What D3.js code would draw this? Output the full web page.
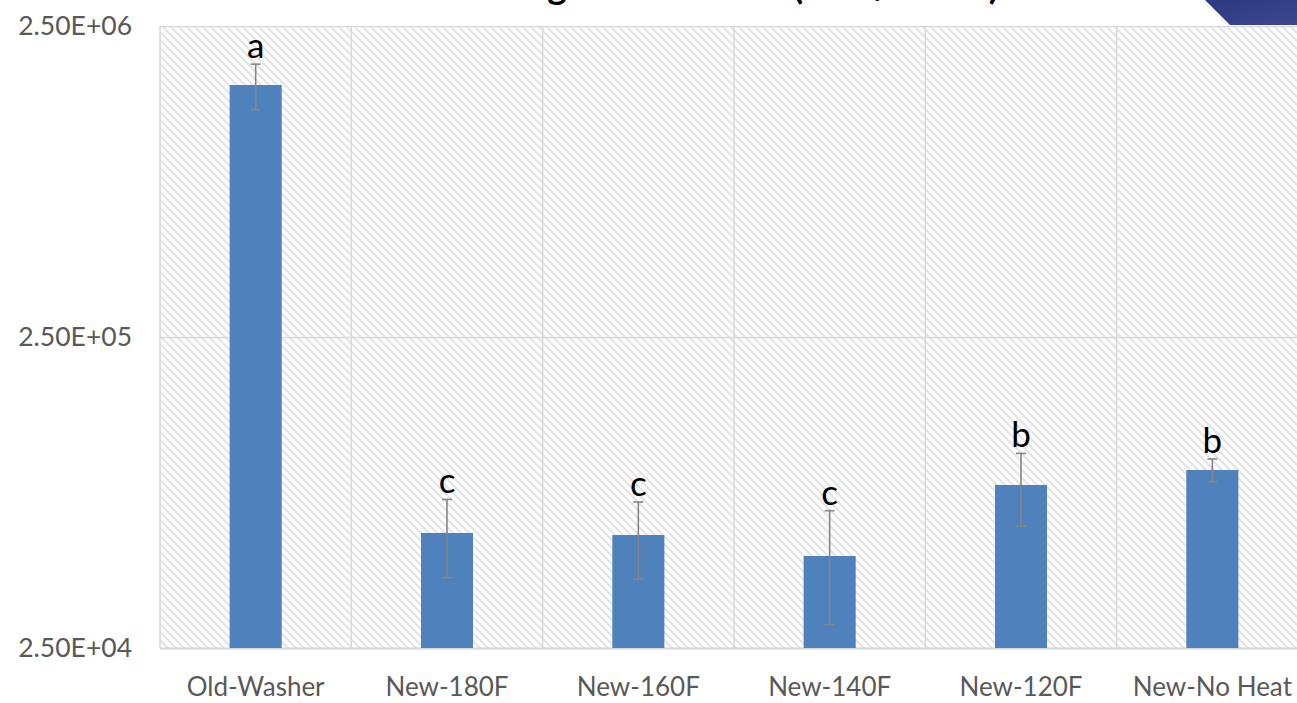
<!DOCTYPE html>
<html>
<head>
<meta charset="utf-8">
<script src="https://cdn.jsdelivr.net/npm/d3@7"></script>
<style>
  html, body { margin: 0; padding: 0; background: #ffffff; }
  svg { display: block; }
</style>
</head>
<body>
<svg id="chart" width="1297" height="703"></svg>
<script>
// Wash treatments and their average counts (CFU), with standard errors
const categories = ["Old-Washer", "New-180F", "New-160F", "New-140F", "New-120F", "New-No Heat"];
const meanCounts = [1615000, 58600, 57700, 49400, 83600, 93400];
const errorCounts = [270000, 16500, 16000, 19700, 22000, 7900];
const groupLetters = ["a", "c", "c", "c", "b", "b"];
const yTicks = [25000, 250000, 2500000];
const titleText = "Average Total Count (CFU/Towel)";

const svg = d3.select("#chart");
const W = 1297, H = 703;
const plot = { left: 160, right: 1308, top: 26, bottom: 648 };
const fontFamily = "Lato, 'Open Sans', 'Noto Sans', sans-serif";

svg.append("rect").attr("width", W).attr("height", H).attr("fill", "#ffffff");

const defs = svg.append("defs");

// Light downward-diagonal hatch used as the plot background
const hatch = defs.append("pattern")
  .attr("id", "hatch")
  .attr("patternUnits", "userSpaceOnUse")
  .attr("width", 8).attr("height", 8);
hatch.append("rect").attr("width", 8).attr("height", 8).attr("fill", "#ffffff");
hatch.append("path")
  .attr("d", "M-2,-2 L10,10 M-2,6 L2,10 M6,-2 L10,2")
  .attr("stroke", "#e4e4e4")
  .attr("stroke-width", 2.2);

const cornerGrad = defs.append("linearGradient")
  .attr("id", "cornerGrad")
  .attr("x1", "0").attr("y1", "0").attr("x2", "1").attr("y2", "1");
cornerGrad.append("stop").attr("offset", "0").attr("stop-color", "#2c3a82");
cornerGrad.append("stop").attr("offset", "1").attr("stop-color", "#3c478e");

// Scales
const x = d3.scaleBand()
  .domain(categories)
  .range([plot.left, plot.right])
  .paddingInner(0.728)
  .paddingOuter(0.364);

const y = d3.scaleLog()
  .domain([yTicks[0], yTicks[yTicks.length - 1]])
  .range([plot.bottom, plot.top]);

const fmtSci = v => {
  const [m, e] = v.toExponential(2).split("e");
  const sign = e[0] === "-" ? "-" : "+";
  const digits = e.replace(/[+-]/, "").padStart(2, "0");
  return `${m}E${sign}${digits}`;
};

// Plot background
svg.append("rect")
  .attr("x", plot.left).attr("y", plot.top)
  .attr("width", plot.right - plot.left)
  .attr("height", plot.bottom - plot.top)
  .attr("fill", "url(#hatch)");

// Horizontal gridlines and y tick labels
const yAxis = d3.axisLeft(y)
  .tickValues(yTicks)
  .tickFormat(fmtSci)
  .tickSize(-(plot.right - plot.left))
  .tickPadding(28);

const gy = svg.append("g")
  .attr("transform", `translate(${plot.left},0)`)
  .call(yAxis);
gy.select(".domain").remove();
gy.selectAll(".tick line").attr("stroke", "#d9d9d9").attr("stroke-width", 1.5);
gy.selectAll(".tick text")
  .attr("fill", "#595959")
  .style("font-family", fontFamily)
  .style("font-size", "26.5px");

// Vertical gridlines at category boundaries
const step = x.step();
const boundaries = d3.range(categories.length + 1).map(i => plot.left + i * step);
svg.append("g").selectAll("line")
  .data(boundaries)
  .join("line")
  .attr("x1", d => d).attr("x2", d => d)
  .attr("y1", plot.top).attr("y2", plot.bottom)
  .attr("stroke", "#d9d9d9").attr("stroke-width", 1.5);

// Category axis
const xAxis = d3.axisBottom(x).tickSize(0).tickPadding(30);
const gx = svg.append("g")
  .attr("transform", `translate(0,${plot.bottom})`)
  .call(xAxis);
gx.select(".domain").attr("stroke", "#d9d9d9").attr("stroke-width", 2);
gx.selectAll(".tick text")
  .attr("fill", "#595959")
  .style("font-family", fontFamily)
  .style("font-size", "26px");

// Bars
const rows = categories.map((c, i) => ({
  cat: c, mean: meanCounts[i], err: errorCounts[i], letter: groupLetters[i]
}));

svg.append("g").selectAll("rect")
  .data(rows)
  .join("rect")
  .attr("x", d => x(d.cat))
  .attr("width", x.bandwidth())
  .attr("y", d => y(d.mean))
  .attr("height", d => plot.bottom - y(d.mean))
  .attr("fill", "#4f81bd");

// Error bars
const capHalf = 5;
const eb = svg.append("g")
  .attr("stroke", "#868686")
  .attr("stroke-width", 1.6);
rows.forEach(d => {
  const cx = x(d.cat) + x.bandwidth() / 2;
  const yHi = y(d.mean + d.err);
  const yLo = y(d.mean - d.err);
  eb.append("line").attr("x1", cx).attr("x2", cx).attr("y1", yHi).attr("y2", yLo);
  eb.append("line").attr("x1", cx - capHalf).attr("x2", cx + capHalf).attr("y1", yHi).attr("y2", yHi);
  eb.append("line").attr("x1", cx - capHalf).attr("x2", cx + capHalf).attr("y1", yLo).attr("y2", yLo);
});

// Significance letters
svg.append("g").selectAll("text")
  .data(rows)
  .join("text")
  .attr("x", d => x(d.cat) + x.bandwidth() / 2)
  .attr("y", d => y(d.mean + d.err) - 6)
  .attr("text-anchor", "middle")
  .attr("fill", "#000000")
  .style("font-family", fontFamily)
  .style("font-size", "35px")
  .text(d => d.letter);

// Title (sits mostly above the visible area)
svg.append("text")
  .attr("x", 452)
  .attr("y", -1)
  .attr("fill", "#000000")
  .style("font-family", fontFamily)
  .style("font-weight", "bold")
  .style("font-size", "37px")
  .text(titleText);

// Corner accent
svg.append("path")
  .attr("d", "M1205,0 L1230,25 L1297,25 L1297,0 Z")
  .attr("fill", "url(#cornerGrad)");
</script>
</body>
</html>
